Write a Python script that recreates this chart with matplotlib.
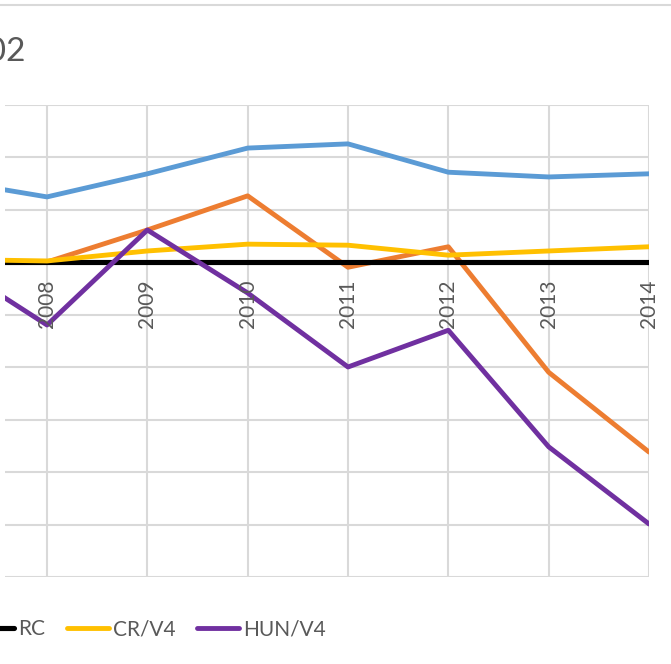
import matplotlib.pyplot as plt
from matplotlib.lines import Line2D

# Data (units = one gridline step, RC = 0)
years = [2007, 2008, 2009, 2010, 2011, 2012, 2013, 2014]
label_years = [2008, 2009, 2010, 2011, 2012, 2013, 2014]
blue_vals = [1.56, 1.24, 1.68, 2.17, 2.25, 1.71, 1.62, 1.68]
orange_vals = [0.03, 0.0, 0.61, 1.26, -0.10, 0.29, -2.10, -3.62]
rc_vals = [0, 0, 0, 0, 0, 0, 0, 0]
cr_vals = [0.05, 0.02, 0.21, 0.34, 0.32, 0.13, 0.21, 0.29]
hun_vals = [0.03, -1.20, 0.61, -0.59, -2.00, -1.30, -3.52, -4.99]
title_text = "2002"

grey = "#595959"
grid = "#D9D9D9"
plt.rcParams['font.family'] = ['Lato', 'DejaVu Sans']

fig = plt.figure(figsize=(6.71, 6.64), dpi=100)
W, H = 671, 664
# plot area in pixels: left 5, right 649, top 104.5, bottom 577
ax = fig.add_axes([5 / W, (H - 577) / H, 644 / W, (577 - 104.5) / H])

ax.plot(years, blue_vals, color="#5B9BD5", lw=3.5, solid_capstyle='round', label="_blue")
ax.plot(years, orange_vals, color="#ED7D31", lw=3.5, solid_capstyle='round', label="_orange")
l_rc, = ax.plot(years, rc_vals, color="black", lw=3.7, solid_capstyle='round', label="RC")
l_cr, = ax.plot(years, cr_vals, color="#FFC000", lw=3.5, solid_capstyle='round', label="CR/V4")
l_hun, = ax.plot(years, hun_vals, color="#7030A0", lw=3.5, solid_capstyle='round', label="HUN/V4")

ax.set_xlim(2008 - 42 / 100.3, 2014)
ax.set_ylim(-6, 3)
ax.set_yticks(range(-6, 4))
ax.set_xticks(label_years)
ax.grid(True, color=grid, lw=1.5, zorder=0)
ax.set_axisbelow(True)
ax.tick_params(length=0, labelbottom=False, labelleft=False)
for s in ax.spines.values():
    s.set_visible(False)

# category labels next to the zero axis
for yr in label_years:
    ax.annotate(str(yr), (yr, 0), xytext=(0, -12.5), textcoords='offset points',
                rotation=90, ha='center', va='top', fontsize=15, color=grey)

# title, cut off on the left like the reference
fig.text(26 / W, (H - 61) / H, title_text, ha='right', va='baseline',
         fontsize=24, color=grey)

# chart border at top
fig.add_artist(Line2D([0, 1], [(H - 5) / H, (H - 5) / H], color=grid, lw=1.5,
                      transform=fig.transFigure))

leg = fig.legend(handles=[l_rc, l_cr, l_hun], loc='center left',
                 bbox_to_anchor=(-38 / W, (H - 629) / H), ncol=3, frameon=False,
                 fontsize=15, handlelength=2.0, handletextpad=0.2,
                 columnspacing=1.05, borderpad=0)
for t in leg.get_texts():
    t.set_color(grey)

fig.savefig("out.png", dpi=100)
